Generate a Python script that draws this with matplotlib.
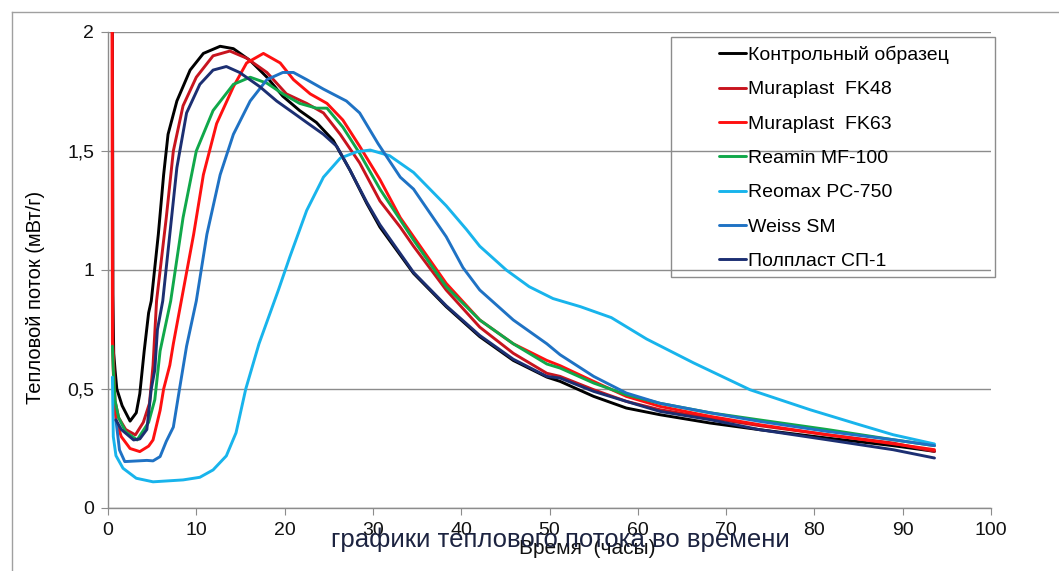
import matplotlib
matplotlib.use("Agg")
import matplotlib.pyplot as plt
from matplotlib.lines import Line2D

plt.rcParams['font.family'] = ['Liberation Sans', 'DejaVu Sans']

# time (h) / heat flow (mW/g)
kontrol_t = [0.5, 0.55, 0.65, 0.8, 1.0, 1.6, 2.5, 3.2, 3.6, 4.1, 4.6, 4.9, 5.7, 6.3, 6.8, 7.8, 9.3,
             10.8, 12.7, 14.2, 16.1, 18.0, 19.8, 21.7, 23.6, 25.5, 27.4, 29.3, 30.8, 34.6, 38.3,
             42.1, 45.9, 49.7, 51.2, 55.0, 58.7, 62.5, 68.2, 73.8, 81.4, 88.9, 93.6]
kontrol_q = [2.1, 0.9, 0.65, 0.58, 0.5, 0.43, 0.365, 0.40, 0.48, 0.66, 0.82, 0.87, 1.15, 1.40, 1.57,
             1.71, 1.84, 1.91, 1.94, 1.93, 1.88, 1.81, 1.73, 1.67, 1.62, 1.545, 1.42, 1.28, 1.18,
             0.986, 0.846, 0.72, 0.62, 0.55, 0.532, 0.469, 0.42, 0.392, 0.357, 0.329, 0.294,
             0.262, 0.238]

fk48_t = [0.5, 0.55, 0.8, 1.2, 2.0, 3.1, 4.0, 4.7, 5.1, 5.5, 6.6, 7.4, 8.5, 10.0, 11.9, 13.8, 15.7,
          18.0, 20.2, 22.5, 24.4, 26.3, 28.5, 30.8, 33.1, 34.6, 38.3, 42.1, 45.9, 49.7, 51.2,
          55.0, 58.7, 62.5, 68.2, 73.8, 81.4, 88.9, 93.6]
fk48_q = [2.1, 0.7, 0.45, 0.38, 0.33, 0.307, 0.36, 0.44, 0.6, 0.87, 1.22, 1.50, 1.69, 1.81, 1.90,
          1.92, 1.89, 1.83, 1.74, 1.70, 1.66, 1.57, 1.45, 1.29, 1.18, 1.10, 0.916, 0.76, 0.65,
          0.566, 0.553, 0.497, 0.448, 0.413, 0.378, 0.346, 0.308, 0.273, 0.238]

fk63_t = [0.45, 0.5, 0.7, 0.9, 1.5, 2.5, 3.6, 4.6, 5.1, 5.9, 6.3, 7.0, 7.4, 8.3, 9.7, 10.8, 12.3,
          14.2, 15.7, 17.6, 19.5, 21.0, 22.9, 24.8, 26.6, 28.5, 30.8, 33.1, 34.6, 38.3, 42.1,
          45.9, 49.7, 51.2, 55.0, 58.7, 62.5, 68.2, 73.8, 81.4, 88.9, 93.6]
fk63_q = [2.1, 0.7, 0.45, 0.37, 0.30, 0.25, 0.237, 0.26, 0.286, 0.41, 0.5, 0.6, 0.69, 0.87, 1.15,
          1.40, 1.615, 1.77, 1.87, 1.91, 1.87, 1.80, 1.74, 1.70, 1.63, 1.52, 1.38, 1.22, 1.14,
          0.944, 0.79, 0.69, 0.62, 0.598, 0.532, 0.469, 0.427, 0.385, 0.35, 0.308, 0.27, 0.245]

reamin_t = [0.5, 0.6, 0.8, 1.2, 2.0, 3.3, 4.6, 5.3, 5.9, 7.1, 8.5, 10.0, 11.9, 14.2, 16.1, 18.0,
            19.8, 21.7, 23.6, 24.8, 26.6, 28.5, 30.8, 34.6, 38.3, 42.1, 45.9, 49.7, 51.2, 55.0,
            58.7, 62.5, 68.2, 73.8, 81.4, 88.9, 93.6]
reamin_q = [0.68, 0.58, 0.45, 0.38, 0.32, 0.286, 0.36, 0.455, 0.66, 0.87, 1.22, 1.50, 1.67, 1.78,
            1.81, 1.785, 1.74, 1.70, 1.68, 1.68, 1.60, 1.49, 1.34, 1.126, 0.93, 0.79, 0.69,
            0.605, 0.588, 0.525, 0.476, 0.44, 0.40, 0.37, 0.33, 0.287, 0.262]

reomax_t = [0.5, 0.6, 0.9, 1.7, 3.2, 5.1, 8.5, 10.4, 11.9, 13.4, 14.5, 15.6, 17.1, 19.3, 20.6,
            22.5, 24.4, 26.3, 28.2, 29.7, 31.9, 34.6, 38.3, 40.6, 42.1, 45.1, 47.7, 50.4, 53.5,
            57.0, 61.0, 66.3, 72.7, 79.5, 85.1, 88.9, 93.6]
reomax_q = [0.55, 0.3, 0.22, 0.167, 0.125, 0.11, 0.118, 0.129, 0.16, 0.219, 0.316, 0.5, 0.69,
            0.916, 1.056, 1.25, 1.39, 1.47, 1.497, 1.504, 1.48, 1.41, 1.27, 1.17, 1.10, 1.0,
            0.93, 0.88, 0.846, 0.80, 0.71, 0.61, 0.497, 0.413, 0.35, 0.308, 0.269]

weiss_t = [0.9, 1.3, 1.9, 4.4, 5.1, 5.9, 6.6, 7.4, 8.1, 8.9, 10.0, 11.2, 12.7, 14.2, 16.1, 18.0,
           19.8, 21.0, 22.5, 24.4, 27.0, 28.5, 30.6, 33.1, 34.6, 38.3, 40.2, 42.1, 45.9, 49.7,
           51.2, 55.0, 58.7, 62.5, 68.2, 73.8, 81.4, 88.9, 93.6]
weiss_q = [0.37, 0.244, 0.195, 0.2, 0.198, 0.216, 0.28, 0.34, 0.5, 0.68, 0.87, 1.15, 1.40, 1.57,
           1.71, 1.80, 1.83, 1.83, 1.80, 1.76, 1.71, 1.66, 1.53, 1.39, 1.34, 1.14, 1.01, 0.916,
           0.79, 0.69, 0.644, 0.553, 0.483, 0.44, 0.40, 0.364, 0.322, 0.287, 0.262]

polplast_t = [0.9, 1.5, 2.9, 3.6, 4.4, 4.9, 5.3, 5.6, 6.2, 7.0, 7.8, 8.9, 10.4, 11.9, 13.4, 14.9,
              17.2, 19.1, 21.0, 22.5, 24.4, 25.9, 27.4, 29.3, 30.8, 34.6, 38.3, 42.1, 45.9,
              49.7, 51.2, 55.0, 58.7, 62.5, 68.2, 73.8, 81.4, 88.9, 93.6]
polplast_q = [0.37, 0.33, 0.286, 0.29, 0.33, 0.5, 0.58, 0.75, 0.87, 1.15, 1.43, 1.66, 1.78, 1.84,
              1.855, 1.83, 1.77, 1.71, 1.66, 1.62, 1.57, 1.52, 1.42, 1.285, 1.19, 0.99, 0.85,
              0.725, 0.625, 0.553, 0.546, 0.49, 0.448, 0.406, 0.371, 0.329, 0.287, 0.245, 0.21]

names = ['Контрольный образец', 'Muraplast  FK48', 'Muraplast  FK63', 'Reamin MF-100',
         'Reomax PC-750', 'Weiss SM', 'Полпласт СП-1']
colors = ['#000000', '#c8141e', '#ff1010', '#10a84a', '#18b4ec', '#1f72c4', '#1c2f72']
series = [(kontrol_t, kontrol_q), (fk48_t, fk48_q), (fk63_t, fk63_q), (reamin_t, reamin_q),
          (reomax_t, reomax_q), (weiss_t, weiss_q), (polplast_t, polplast_q)]

W, H = 1059, 571
fig = plt.figure(figsize=(W / 100, H / 100), dpi=100)
ax = fig.add_axes([108 / W, 1 - 508 / H, (991 - 108) / W, (508 - 32) / H])

for (t, q), name, c in zip(series, names, colors):
    ax.plot(t, q, color=c, lw=2.1, label=name, solid_capstyle='round', solid_joinstyle='round')

ax.set_xlim(0, 100)
ax.set_ylim(0, 2)
ax.set_xticks(range(0, 101, 10))
ax.set_yticks([0, 0.5, 1, 1.5, 2])
ax.set_yticklabels(['0', '0,5', '1', '1,5', '2'])
ax.yaxis.grid(True, color='#8c8c8c', lw=1.0)
ax.set_axisbelow(True)
for s in ['top', 'right']:
    ax.spines[s].set_visible(False)
for s in ['left', 'bottom']:
    ax.spines[s].set_color('#8c8c8c')
    ax.spines[s].set_linewidth(1.0)
ax.tick_params(axis='both', direction='out', length=5, color='#8c8c8c', labelsize=14,
               labelcolor='#111111', pad=5)
ax.set_ylabel('Тепловой поток (мВт/г)', fontsize=14.5)
ax.yaxis.set_label_coords(-0.071, 0.443)

# legend with a separate square frame
leg = ax.legend(loc='upper left', bbox_to_anchor=(709 / W, 1 - 36 / H), bbox_transform=fig.transFigure,
                frameon=False, fontsize=14, handlelength=1.4, handletextpad=0.1,
                labelspacing=0.86, borderpad=0)
fig.patches.append(plt.Rectangle((671 / W, 1 - 277 / H), (995 - 671) / W, (277 - 37) / H,
                                 transform=fig.transFigure, fill=False, ec='#8c8c8c', lw=1.0))

# outer chart frame (top and left only visible)
fig.add_artist(Line2D([12 / W, 1], [1 - 12 / H, 1 - 12 / H], transform=fig.transFigure,
                      color='#a0a0a0', lw=1.0))
fig.add_artist(Line2D([12 / W, 12 / W], [0, 1 - 12 / H], transform=fig.transFigure,
                      color='#a0a0a0', lw=1.0))

fig.text(587 / W, 1 - 549 / H, 'Время  (часы)', fontsize=15, ha='center', va='center', color='#111111')
fig.text(560 / W, 1 - 540 / H, 'графики теплового потока во времени', fontsize=18.5,
         ha='center', va='center', color='#1c2340')

fig.savefig('out.png', dpi=100)
